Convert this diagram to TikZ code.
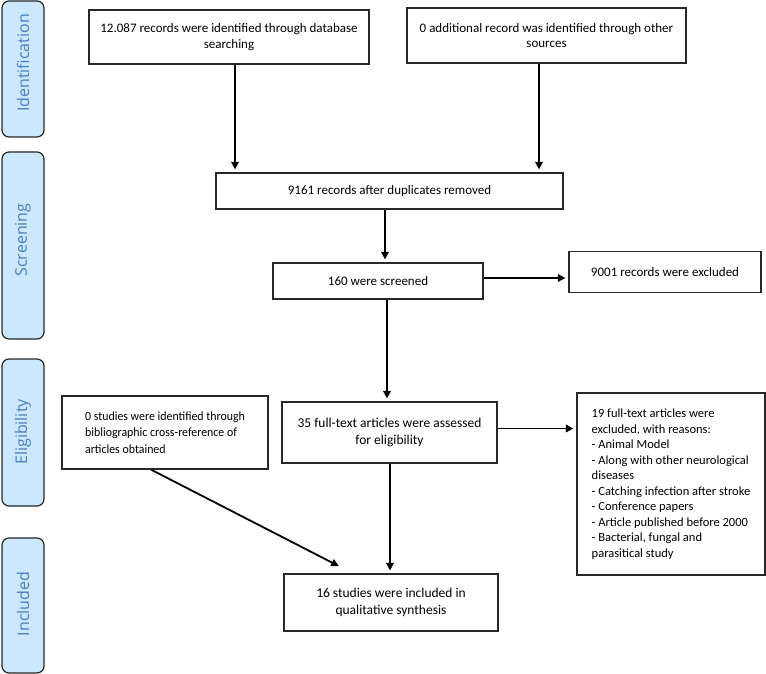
\documentclass[tikz,border=0pt]{standalone}
\usepackage{fontspec}
\setmainfont{Carlito}
\newfontfamily\sidefont{Open Sans}
\newfontfamily\condfont[FakeStretch=0.95]{Carlito}
\usetikzlibrary{arrows.meta,calc}
\definecolor{barfill}{RGB}{204,232,255}
\definecolor{bartext}{RGB}{74,126,187}
\definecolor{boxline}{RGB}{40,40,40}
\begin{document}
\begin{tikzpicture}[x=1pt,y=-1pt,
  box/.style={draw=boxline,line width=1.2pt,fill=white,inner sep=2pt,
    font=\fontsize{13}{15.5}\selectfont,align=center},
  bar/.style={draw=black!85,line width=1.2pt,fill=barfill,rounded corners=7pt},
  barlabel/.style={rotate=90,text=bartext,font=\sidefont\fontsize{16}{19}\selectfont},
  arr/.style={line width=1.8pt,-{Triangle[length=7.5pt,width=7.5pt]},shorten >=3pt}]
\useasboundingbox (0,0) rectangle (766,674);
% side bars
\draw[bar] (2,1) rectangle (44,137);
\node[barlabel] (lid) at (23,63) {Identification};
\draw[bar] (2,152) rectangle (44,339);
\node[barlabel] (lsc) at (23,240) {Screening};
\draw[bar] (2,359) rectangle (44,506);
\node[barlabel] (lel) at (23,432) {Eligibility};
\draw[bar] (2,538) rectangle (44,673);
\node[barlabel] (lin) at (23,604) {Included};
% boxes
\node[box,minimum width=280pt,minimum height=54pt] (A) at (229,37)
  {12.087 records were identified through database\\searching};
\node[box,minimum width=279pt,minimum height=55pt] (B) at (546.5,35.5)
  {0 additional record was identified through other\\sources};
\node[box,minimum width=347pt,minimum height=36pt] (C) at (389.5,191)
  {9161 records after duplicates removed};
\node[box,minimum width=210pt,minimum height=36pt] (D) at (378,281)
  {160 were screened};
\node[box,minimum width=192pt,minimum height=41pt] (E) at (665,272)
  {9001 records were excluded};
\node[box,minimum width=215pt,minimum height=61pt,font=\fontsize{13.5}{16.5}\selectfont] (F) at (389.5,432.5)
  {35 full-text articles were assessed\\for eligibility};
\node[box,minimum width=206pt,minimum height=73pt,align=left,font=\condfont\fontsize{12.5}{16.5}\selectfont] (G) at (165,432.5)
  {0 studies were identified through\\bibliographic cross-reference of\\articles obtained};
\node[box,minimum width=188pt,minimum height=182pt,align=left,font=\fontsize{12.5}{15.5}\selectfont] (H) at (671,484)
  {19 full-text articles were\\excluded, with reasons:\\- Animal Model\\- Along with other neurological\\diseases\\- Catching infection after stroke\\- Conference papers\\- Article published before 2000\\- Bacterial, fungal and\\parasitical study};
\node[box,minimum width=214pt,minimum height=57pt,font=\fontsize{13.5}{16.5}\selectfont] (I) at (391,602.5)
  {16 studies were included in\\qualitative synthesis};
% arrows
\draw[arr] ([xshift=6pt]A.south) -- ([xshift=6pt]A.south |- C.north);
\draw[arr] ([xshift=-7.5pt]B.south) -- ([xshift=-7.5pt]B.south |- C.north);
\draw[arr] ([xshift=-4.5pt]C.south) -- ([xshift=-4.5pt]C.south |- D.north);
\draw[arr] ([yshift=3pt]D.east) -- ([yshift=3pt]D.east -| E.west);
\draw[arr] ([xshift=9pt]D.south) -- ([xshift=9pt]D.south |- F.north);
\draw[arr] ([yshift=4pt]F.east) -- ([yshift=4pt]F.east -| H.west);
\draw[arr] ([xshift=0.5pt]F.south) -- ([xshift=0.5pt]F.south |- I.north);
\draw[arr] ([xshift=-14pt]G.south) -- ([xshift=58pt,yshift=6pt]I.north west);
\end{tikzpicture}
\end{document}
